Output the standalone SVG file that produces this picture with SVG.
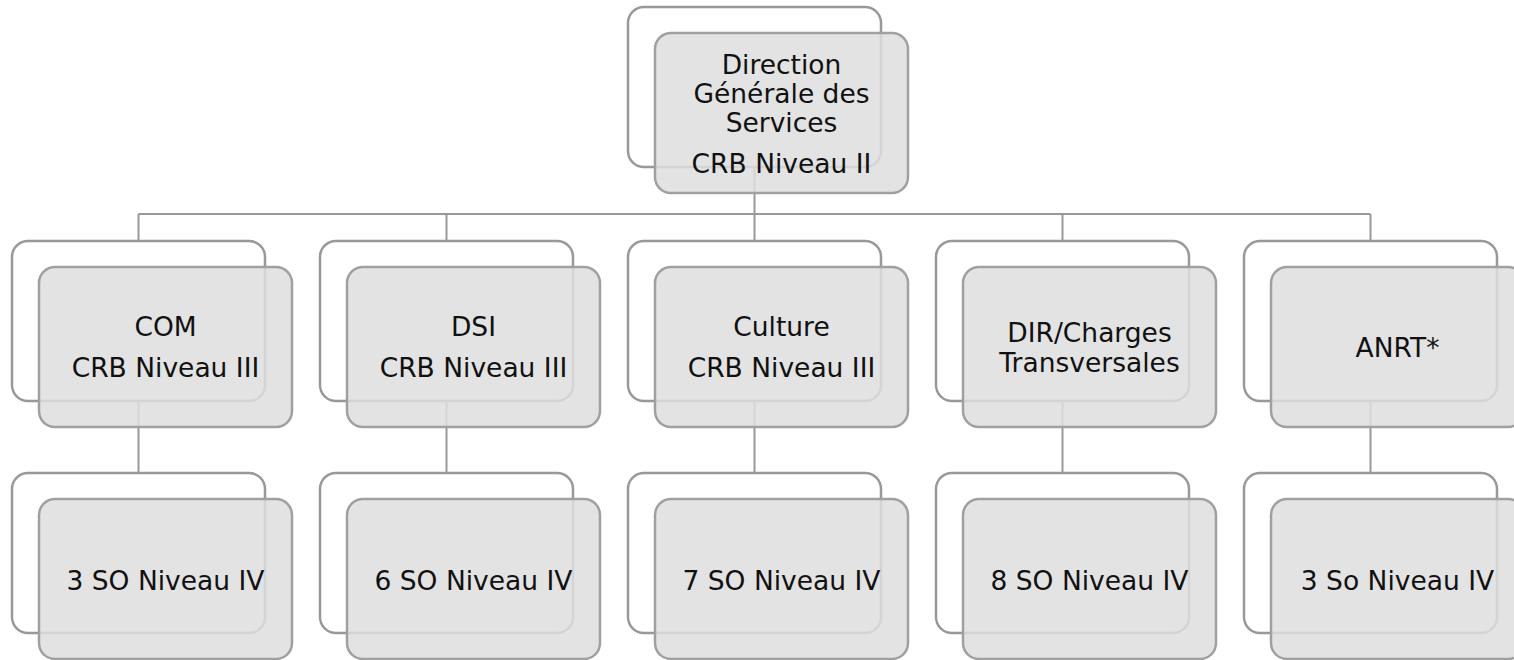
<svg xmlns="http://www.w3.org/2000/svg" width="1514" height="660" viewBox="0 0 1514 660">
<style>
.bg{fill:#ffffff;stroke:#999999;stroke-width:2.5}
.fg{fill:#dedede;fill-opacity:0.85;stroke:#a0a0a0;stroke-width:2.5}
.ln{stroke:#999999;stroke-width:2;fill:none}
text{font-family:"DejaVu Sans",Verdana,sans-serif;font-size:26.5px;fill:#111111;text-anchor:middle}
</style>
<rect width="1514" height="660" fill="#ffffff"/>
<g id="connectors">
<path class="ln" d="M754.5 167V214M138.5 214H1370.5M138.5 214V241M446.5 214V241M754.5 214V241M1062.5 214V241M1370.5 214V241"/>
<path class="ln" d="M138.5 401V473M446.5 401V473M754.5 401V473M1062.5 401V473M1370.5 401V473"/>
</g>
<g id="dgs">
<rect class="bg" x="628" y="7" width="253" height="160" rx="16"/>
<rect class="fg" x="655" y="33" width="253" height="160" rx="16"/>
<text x="781.5" y="74">Direction</text>
<text x="781.5" y="102.5">Générale des</text>
<text x="781.5" y="131.5">Services</text>
<text x="781.5" y="173">CRB Niveau II</text>
</g>
<g id="com">
<rect class="bg" x="12" y="241" width="253" height="160" rx="16"/>
<rect class="fg" x="39" y="267" width="253" height="160" rx="16"/>
<text x="165.5" y="336">COM</text>
<text x="165.5" y="377">CRB Niveau III</text>
</g>
<g id="dsi">
<rect class="bg" x="320" y="241" width="253" height="160" rx="16"/>
<rect class="fg" x="347" y="267" width="253" height="160" rx="16"/>
<text x="473.5" y="336">DSI</text>
<text x="473.5" y="377">CRB Niveau III</text>
</g>
<g id="culture">
<rect class="bg" x="628" y="241" width="253" height="160" rx="16"/>
<rect class="fg" x="655" y="267" width="253" height="160" rx="16"/>
<text x="781.5" y="336">Culture</text>
<text x="781.5" y="377">CRB Niveau III</text>
</g>
<g id="dir">
<rect class="bg" x="936" y="241" width="253" height="160" rx="16"/>
<rect class="fg" x="963" y="267" width="253" height="160" rx="16"/>
<text x="1089.5" y="342">DIR/Charges</text>
<text x="1089.5" y="372">Transversales</text>
</g>
<g id="anrt">
<rect class="bg" x="1244" y="241" width="253" height="160" rx="16"/>
<rect class="fg" x="1271" y="267" width="253" height="160" rx="16"/>
<text x="1397.5" y="357">ANRT*</text>
</g>
<g id="so-com">
<rect class="bg" x="12" y="473" width="253" height="160" rx="16"/>
<rect class="fg" x="39" y="499" width="253" height="160" rx="16"/>
<text x="165.5" y="590">3 SO Niveau IV</text>
</g>
<g id="so-dsi">
<rect class="bg" x="320" y="473" width="253" height="160" rx="16"/>
<rect class="fg" x="347" y="499" width="253" height="160" rx="16"/>
<text x="473.5" y="590">6 SO Niveau IV</text>
</g>
<g id="so-culture">
<rect class="bg" x="628" y="473" width="253" height="160" rx="16"/>
<rect class="fg" x="655" y="499" width="253" height="160" rx="16"/>
<text x="781.5" y="590">7 SO Niveau IV</text>
</g>
<g id="so-dir">
<rect class="bg" x="936" y="473" width="253" height="160" rx="16"/>
<rect class="fg" x="963" y="499" width="253" height="160" rx="16"/>
<text x="1089.5" y="590">8 SO Niveau IV</text>
</g>
<g id="so-anrt">
<rect class="bg" x="1244" y="473" width="253" height="160" rx="16"/>
<rect class="fg" x="1271" y="499" width="253" height="160" rx="16"/>
<text x="1397.5" y="590">3 So Niveau IV</text>
</g>
</svg>
